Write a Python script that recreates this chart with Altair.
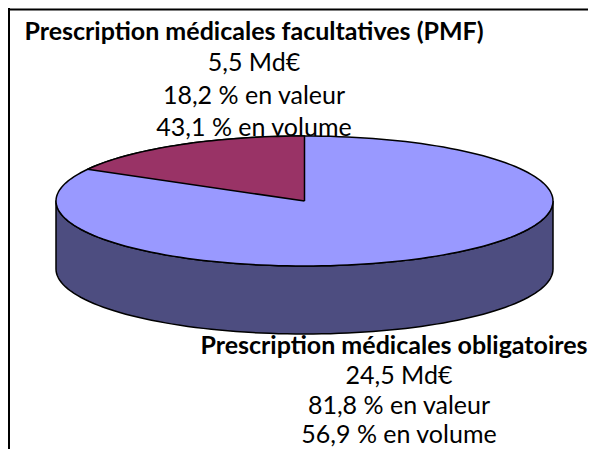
import numpy as np
import pandas as pd
import altair as alt

# Drawn shares (percent of the pie as it appears in perspective)
slice_names = ["PMF", "PMO"]
drawn_share = [16.9, 83.1]
fill_top = "#9999FF"
fill_wedge = "#993366"
fill_side = "#4D4D80"

top_lines = ["5,5 Md€", "18,2 % en valeur", "43,1 % en volume"]
bottom_lines = ["24,5 Md€", "81,8 % en valeur", "56,9 % en volume"]
top_title = "Prescription médicales facultatives (PMF)"
bottom_title = "Prescription médicales obligatoires"

W, H = 580, 441
CX, CY, RX, RY, DEPTH = 296.5, 193.0, 248.5, 65.0, 68.0
depth_u = DEPTH / RY

x_scale = alt.Scale(domain=[-CX / RX, (W - CX) / RX], range=[0, W], nice=False, zero=False)
y_scale = alt.Scale(domain=[(CY - H) / RY, CY / RY], range=[H, 0], nice=False, zero=False)


def shape(xs, ys, fill):
    df = pd.DataFrame({"x": xs, "y": ys, "i": np.arange(len(xs))})
    return alt.Chart(df).mark_line(
        fill=fill, stroke="black", strokeWidth=1.5, strokeJoin="round", interpolate="linear", clip=False
    ).encode(
        x=alt.X("x:Q", scale=x_scale, axis=None),
        y=alt.Y("y:Q", scale=y_scale, axis=None),
        order="i:Q",
    )


t = np.linspace(0, 2 * np.pi, 181)
ellipse = shape(np.sin(t), np.cos(t), fill_top)

b = np.linspace(np.pi / 2, 3 * np.pi / 2, 91)
side_x = np.concatenate([np.sin(b), np.sin(b[::-1])])
side_y = np.concatenate([np.cos(b), np.cos(b[::-1]) - depth_u])
side_x = np.append(side_x, side_x[0])
side_y = np.append(side_y, side_y[0])
side = shape(side_x, side_y, fill_side)

a = np.linspace(-2 * np.pi * drawn_share[0] / 100, 0, 40)
wx = np.concatenate([[0], np.sin(a), [0]])
wy = np.concatenate([[0], np.cos(a), [0]])
wedge = shape(wx, wy, fill_wedge)


def txt(s, x, y, bold=False):
    return alt.Chart(pd.DataFrame({"t": [s]})).mark_text(
        font="Lato", fontSize=25, fontWeight="bold" if bold else "normal",
        align="center", baseline="middle", color="black",
    ).encode(text="t:N", x=alt.value(x - 8), y=alt.value(y - 8))


texts = [txt(top_title, 254, 32, True)]
for s, y in zip(top_lines, [63, 96, 128]):
    texts.append(txt(s, 254, y))
texts.append(txt(bottom_title, 394, 346, True))
for s, y in zip(bottom_lines, [376, 406, 435]):
    texts.append(txt(s, 399, y))

frame_top = alt.Chart(pd.DataFrame({"a": [0]})).mark_rule(color="black", strokeWidth=2).encode(
    x=alt.value(0), x2=alt.value(W), y=alt.value(1.5))
frame_left = alt.Chart(pd.DataFrame({"a": [0]})).mark_rule(color="black", strokeWidth=2).encode(
    y=alt.value(0), y2=alt.value(H), x=alt.value(1))

chart = alt.layer(frame_top, frame_left, *texts, side, ellipse, wedge).properties(
    width=W, height=H, padding=0, autosize=alt.AutoSizeParams(type="none"),
    background="white",
).configure_view(stroke=None)

chart.save("out.html", embed_options={"renderer": "svg", "actions": False})
